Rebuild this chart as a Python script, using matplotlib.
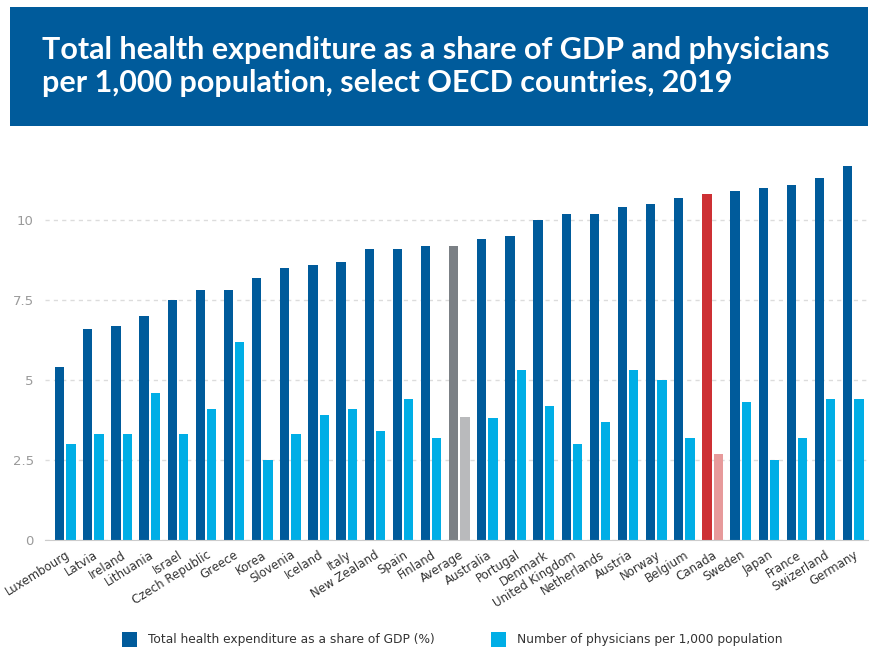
import matplotlib.pyplot as plt
import numpy as np
from matplotlib.patches import Rectangle

# data
countries = ['Luxembourg', 'Latvia', 'Ireland', 'Lithuania', 'Israel', 'Czech Republic',
             'Greece', 'Korea', 'Slovenia', 'Iceland', 'Italy', 'New Zealand', 'Spain',
             'Finland', 'Average', 'Australia', 'Portugal', 'Denmark', 'United Kingdom',
             'Netherlands', 'Austria', 'Norway', 'Belgium', 'Canada', 'Sweden', 'Japan',
             'France', 'Swizerland', 'Germany']
health_exp = [5.4, 6.6, 6.7, 7.0, 7.5, 7.8, 7.8, 8.2, 8.5, 8.6, 8.7, 9.1, 9.1, 9.2, 9.2,
              9.4, 9.5, 10.0, 10.2, 10.2, 10.4, 10.5, 10.7, 10.8, 10.9, 11.0, 11.1, 11.3, 11.7]
physicians = [3.0, 3.3, 3.3, 4.6, 3.3, 4.1, 6.2, 2.5, 3.3, 3.9, 4.1, 3.4, 4.4, 3.2, 3.85,
              3.8, 5.3, 4.2, 3.0, 3.7, 5.3, 5.0, 3.2, 2.7, 4.3, 2.5, 3.2, 4.4, 4.4]
yticks = [0, 2.5, 5, 7.5, 10]
ytick_labels = ['0', '2.5', '5', '7.5', '10']

title = 'Total health expenditure as a share of GDP and physicians\nper 1,000 population, select OECD countries, 2019'
legend_labels = ['Total health expenditure as a share of GDP (%)',
                 'Number of physicians per 1,000 population']

DARK = '#005b9b'
LIGHT = '#00aee6'

dark_colors = [DARK] * len(countries)
light_colors = [LIGHT] * len(countries)
dark_colors[countries.index('Average')] = '#7b8085'
light_colors[countries.index('Average')] = '#b9babc'
dark_colors[countries.index('Canada')] = '#cd3034'
light_colors[countries.index('Canada')] = '#e79a9b'

fig = plt.figure(figsize=(8.72, 6.51), dpi=100)

# title banner
fig.patches.append(Rectangle((0.0115, 0.8065), 0.984, 0.1825, transform=fig.transFigure,
                             facecolor=DARK, edgecolor='none', zorder=0))
fig.text(0.048, 0.898, title, color='white', fontsize=22, fontfamily='Lato',
         fontweight='bold', va='center', ha='left', linespacing=1.25)

ax = fig.add_axes([0.0516, 0.1705, 0.9434, 0.6145])
x = np.arange(len(countries))
w = 0.33
ax.bar(x - 0.2, health_exp, width=w, color=dark_colors, zorder=3)
ax.bar(x + 0.2, physicians, width=w, color=light_colors, zorder=3)

ax.set_xlim(-0.72, len(countries) - 0.49)
ax.set_ylim(0, 12.5)
ax.set_yticks(yticks)
ax.set_yticklabels(ytick_labels, color='#9a9a9a', fontsize=9.5)
ax.tick_params(axis='y', length=0, pad=8)
ax.grid(axis='y', linestyle=(0, (3, 3)), color='#dcdcdc', linewidth=1, zorder=0)

ax.set_xticks(x)
ax.set_xticklabels(countries, rotation=32, ha='right', rotation_mode='anchor',
                   fontsize=8.5, color='#333333')
ax.tick_params(axis='x', length=0, pad=6)

for s in ['top', 'right', 'left']:
    ax.spines[s].set_visible(False)
ax.spines['bottom'].set_color('#cccccc')
ax.spines['bottom'].set_zorder(4)

# legend
fig.patches.append(Rectangle((122 / 872, 1 - 647 / 651), 15 / 872, 15 / 651,
                             transform=fig.transFigure, facecolor=DARK, edgecolor='none'))
fig.text(148 / 872, 1 - 639 / 651, legend_labels[0], fontsize=8.8, color='#333333', va='center')
fig.patches.append(Rectangle((491 / 872, 1 - 647 / 651), 15 / 872, 15 / 651,
                             transform=fig.transFigure, facecolor=LIGHT, edgecolor='none'))
fig.text(517 / 872, 1 - 639 / 651, legend_labels[1], fontsize=8.8, color='#333333', va='center')

fig.savefig('out.png', dpi=100)
